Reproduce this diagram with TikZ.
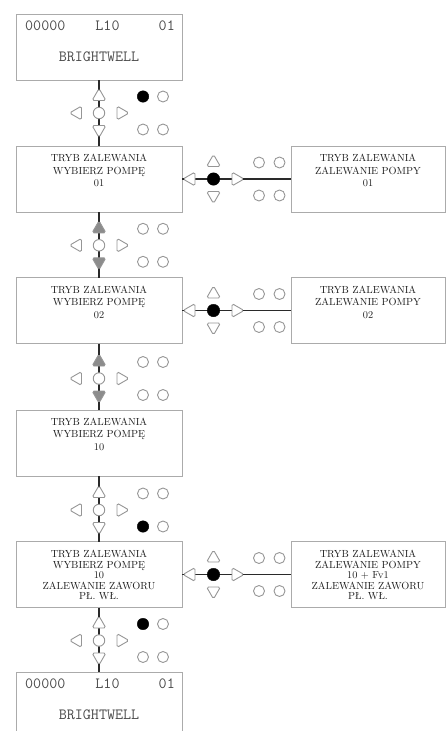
\documentclass[tikz,border=0pt]{standalone}
\usepackage{fontspec}
\usetikzlibrary{shapes.geometric}
\definecolor{edge}{HTML}{ABABAB}
\definecolor{sym}{HTML}{969696}
\definecolor{symfill}{HTML}{8C8C8C}
\definecolor{wire}{HTML}{2A2A2A}
\definecolor{txt}{HTML}{1E1E1E}
\definecolor{lcd}{HTML}{4A4A4A}
\begin{document}
\begin{tikzpicture}[x=1pt,y=-1pt,
 box/.style={draw=edge, line width=0.9pt, minimum width=166pt, minimum height=66pt, inner sep=0pt, outer sep=0pt},
 rbox/.style={box, minimum width=154pt},
 boxtext/.style={anchor=north, align=center, font=\fontsize{10.3}{12.6}\selectfont\addfontfeatures{FakeBold=0.25}, text=txt, inner sep=0pt},
 boxtexttight/.style={boxtext, font=\fontsize{10.3}{10.6}\selectfont\addfontfeatures{FakeBold=0.25}},
 lcdtext/.style={font=\ttfamily\fontsize{15.6}{15.6}\selectfont, text=lcd, inner sep=0pt},
 tri/.style={regular polygon, regular polygon sides=3, draw=sym, fill=white, line width=0.9pt, rounded corners=1.8pt, minimum size=16pt, inner sep=0pt},
 triup/.style={tri},
 tridown/.style={tri, regular polygon rotate=180},
 trileft/.style={tri, regular polygon rotate=90},
 triright/.style={tri, regular polygon rotate=-90},
 knob/.style={circle, draw=sym, fill=white, line width=0.9pt, minimum size=11.5pt, inner sep=0pt},
 knobon/.style={circle, draw=black, fill=black, minimum size=12.5pt, inner sep=0pt},
 led/.style={circle, draw=sym, fill=white, line width=0.9pt, minimum size=11pt, inner sep=0pt},
 ledon/.style={circle, draw=black, fill=black, minimum size=11.5pt, inner sep=0pt},
 conn/.style={draw=wire, line width=1.2pt}]
\path[use as bounding box] (0,0) rectangle (447,731);
\clip (0,0) rectangle (447,731);

% boxes
\node[box] (b1) at (99,47) {};
\node[box] (b2) at (99,179) {};
\node[box] (b3) at (99,310.5) {};
\node[box] (b4) at (99,443) {};
\node[box] (b5) at (99,574.5) {};
\node[box] (b6) at (99,705) {};
\node[rbox] (r2) at (368,179) {};
\node[rbox] (r3) at (368,310.5) {};
\node[rbox] (r5) at (368,574.5) {};

% LCD texts
\foreach \b in {b1,b6}{
  \node[lcdtext, anchor=west] (\b-code) at ([xshift=9pt,yshift=-12pt]\b.north west) {00000};
  \node[lcdtext] (\b-lev) at ([xshift=8.5pt,yshift=-12pt]\b.north) {L10};
  \node[lcdtext, anchor=east] (\b-num) at ([xshift=-7pt,yshift=-12pt]\b.north east) {01};
  \node[lcdtext] (\b-name) at ([yshift=-43pt]\b.north) {BRIGHTWELL};
}

% box texts
\node[boxtext] (t2) at ([yshift=-8pt]b2.north) {TRYB ZALEWANIA\\WYBIERZ POMPĘ\\01};
\node[boxtext] (t3) at ([yshift=-8pt]b3.north) {TRYB ZALEWANIA\\WYBIERZ POMPĘ\\02};
\node[boxtext] (t4) at ([yshift=-7.5pt]b4.north) {TRYB ZALEWANIA\\WYBIERZ POMPĘ\\10};
\node[boxtexttight] (t5) at ([yshift=-8.5pt]b5.north) {TRYB ZALEWANIA\\WYBIERZ POMPĘ\\10\\ZALEWANIE ZAWORU\\PŁ. WŁ.};
\node[boxtext] (u2) at ([yshift=-8pt]r2.north) {TRYB ZALEWANIA\\ZALEWANIE POMPY\\01};
\node[boxtext] (u3) at ([yshift=-8pt]r3.north) {TRYB ZALEWANIA\\ZALEWANIE POMPY\\02};
\node[boxtexttight] (u5) at ([yshift=-8.5pt]r5.north) {TRYB ZALEWANIA\\ZALEWANIE POMPY\\10 + Fv1\\ZALEWANIE ZAWORU\\PŁ. WŁ.};

% connectors
\draw[conn] (b1.south) -- (b2.north);
\draw[conn] (b2.south) -- (b3.north);
\draw[conn] (b3.south) -- (b4.north);
\draw[conn] (b4.south) -- (b5.north);
\draw[conn] (b5.south) -- (b6.north);
\draw[conn] (b2.east) -- (r2.west);
\draw[conn] (b3.east) -- (r3.west);
\draw[conn] (b5.east) -- (r5.west);

% vertical keypads
\foreach \n/\cy/\tf/\la/\lb in {1/113/white/ledon/led, 2/245.3/symfill/led/led, 3/378.5/symfill/led/led, 4/510/white/led/ledon, 5/640.5/white/ledon/led}{
  \node[knob] (v\n-ok) at (99,\cy) {};
  \node[triup, fill=\tf] (v\n-up) at (99,\cy-16.5) {};
  \node[tridown, fill=\tf] (v\n-dn) at (99,\cy+16.5) {};
  \node[trileft] (v\n-lt) at (77.5,\cy) {};
  \node[triright] (v\n-rt) at (121,\cy) {};
  \node[\la] (v\n-l1) at (143,\cy-16.5) {};
  \node[led] (v\n-l2) at (163,\cy-16.5) {};
  \node[\lb] (v\n-l3) at (143,\cy+16.5) {};
  \node[led] (v\n-l4) at (163,\cy+16.5) {};
}

% horizontal keypads
\foreach \n/\cy in {2/179, 3/310.5, 5/574.5}{
  \node[knobon] (h\n-ok) at (213.5,\cy) {};
  \node[trileft] (h\n-lt) at (191,\cy) {};
  \node[triright] (h\n-rt) at (236,\cy) {};
  \node[triup] (h\n-up) at (213.5,\cy-16.5) {};
  \node[tridown] (h\n-dn) at (213.5,\cy+16.5) {};
  \node[led] (h\n-l1) at (259,\cy-16.5) {};
  \node[led] (h\n-l2) at (279.5,\cy-16.5) {};
  \node[led] (h\n-l3) at (259,\cy+16.5) {};
  \node[led] (h\n-l4) at (279.5,\cy+16.5) {};
}
\end{tikzpicture}
\end{document}
